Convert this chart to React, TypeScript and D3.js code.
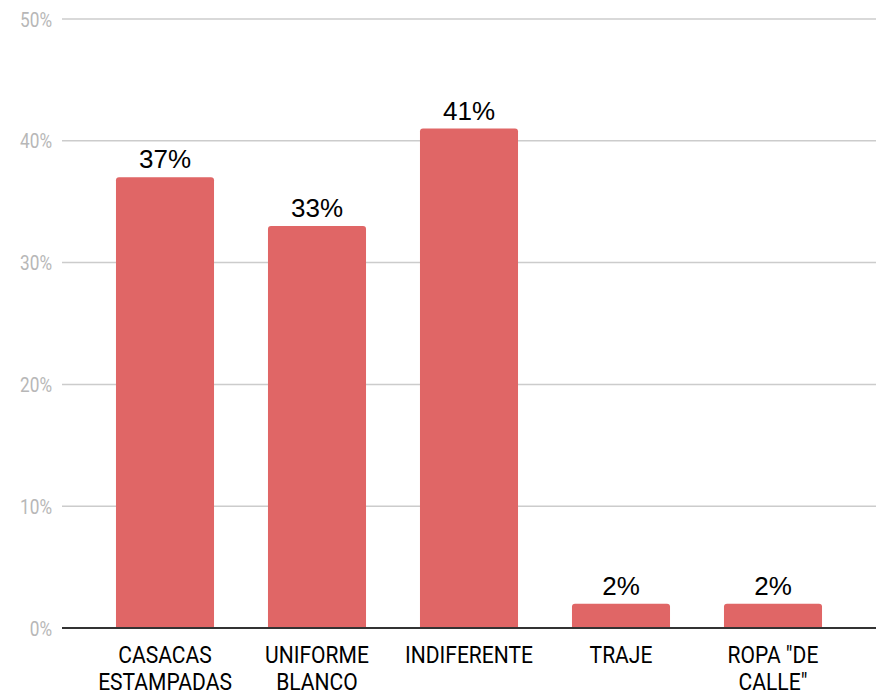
import * as d3 from 'd3'
import { useEffect, useRef } from 'react'

const categories = ['CASACAS\nESTAMPADAS', 'UNIFORME\nBLANCO', 'INDIFERENTE', 'TRAJE', 'ROPA "DE\nCALLE"']
const values = [37, 33, 41, 2, 2]
const tickValues = [0, 10, 20, 30, 40, 50]

const W = 882
const H = 696

export default function App() {
	const svgRef = useRef<SVGSVGElement>(null)

	useEffect(() => {
		if (!svgRef.current) return
		const svg = d3.select(svgRef.current)
		svg.selectAll('*').remove()

		const y = d3.scaleLinear().domain([0, 50]).range([628, 19])
		const x = d3
			.scaleBand<number>()
			.domain(d3.range(categories.length))
			.range([89, 849])
			.paddingInner(0.355)
			.paddingOuter(0.1775)

		const condensed = 0.82

		// grid lines
		svg
			.append('g')
			.selectAll('line')
			.data(tickValues.filter(t => t > 0))
			.join('line')
			.attr('x1', 62)
			.attr('x2', 876)
			.attr('y1', d => y(d))
			.attr('y2', d => y(d))
			.attr('stroke', '#cccccc')
			.attr('stroke-width', 1.5)

		// y tick labels
		svg
			.append('g')
			.selectAll('text')
			.data(tickValues)
			.join('text')
			.attr('transform', d => `translate(52,${y(d)}) scale(${condensed},1)`)
			.attr('dy', '0.36em')
			.attr('text-anchor', 'end')
			.attr('font-family', 'Roboto')
			.attr('font-size', 21)
			.attr('fill', '#b7b7b7')
			.text(d => `${d}%`)

		// bars, only the top corners rounded
		const r = 3
		svg
			.append('g')
			.selectAll('path')
			.data(values)
			.join('path')
			.attr('fill', '#e06666')
			.attr('d', (d, i) => {
				const x0 = x(i)!
				const x1 = x0 + x.bandwidth()
				const top = y(d)
				const base = y(0)
				return `M${x0},${base}V${top + r}Q${x0},${top} ${x0 + r},${top}H${x1 - r}Q${x1},${top} ${x1},${top + r}V${base}Z`
			})

		// value labels
		svg
			.append('g')
			.selectAll('text')
			.data(values)
			.join('text')
			.attr('x', (d, i) => x(i)! + x.bandwidth() / 2)
			.attr('y', d => y(d) - 9)
			.attr('text-anchor', 'middle')
			.attr('font-family', 'Liberation Sans, Arial')
			.attr('font-size', 26)
			.attr('fill', '#000')
			.text(d => `${d}%`)

		// baseline
		svg
			.append('line')
			.attr('x1', 62)
			.attr('x2', 876)
			.attr('y1', y(0))
			.attr('y2', y(0))
			.attr('stroke', '#333333')
			.attr('stroke-width', 2)

		// category labels
		const cat = svg
			.append('g')
			.selectAll('g')
			.data(categories)
			.join('g')
			.attr('transform', (d, i) => `translate(${x(i)! + x.bandwidth() / 2},663) scale(0.86,1)`)

		cat
			.append('text')
			.attr('text-anchor', 'middle')
			.attr('font-family', 'Roboto')
			.attr('font-size', 24.5)
			.attr('fill', '#000')
			.selectAll('tspan')
			.data(d => d.split('\n'))
			.join('tspan')
			.attr('x', 0)
			.attr('y', (d, i) => i * 27)
			.text(d => d)
	}, [])

	return (
		<svg
			ref={svgRef}
			width={W}
			height={H}
			style={{ position: 'absolute', left: 0, top: 0, background: '#fff' }}
		/>
	)
}
